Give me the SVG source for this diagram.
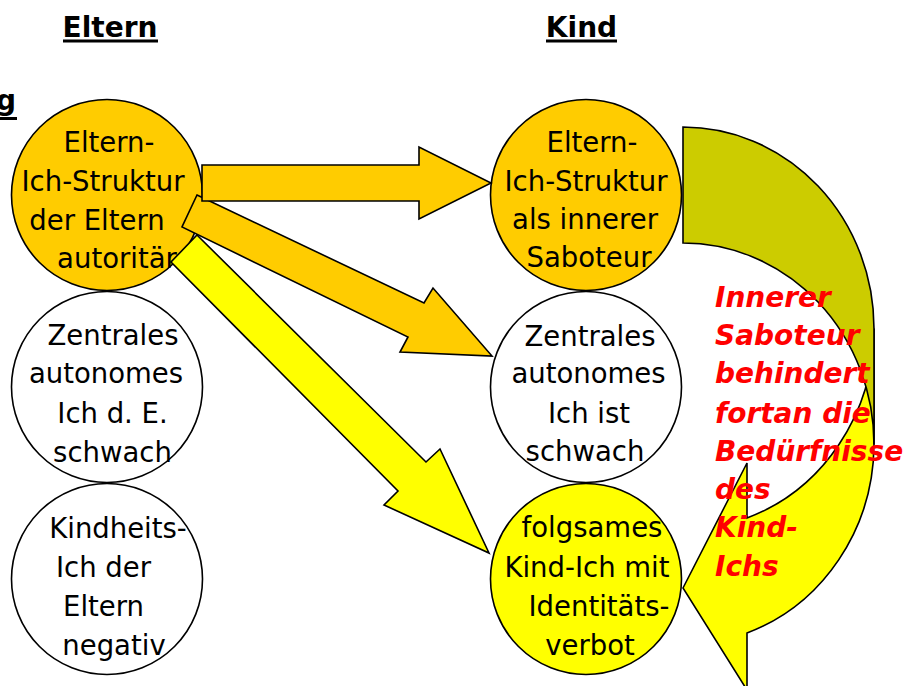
<svg xmlns="http://www.w3.org/2000/svg" width="915" height="686" viewBox="0 0 915 686">
  <style>
    .head { font-family: "DejaVu Sans", Verdana, sans-serif; font-size: 28px; font-weight: bold; fill: #000; }
    .lbl { font-family: "DejaVu Sans", Verdana, sans-serif; font-size: 27.5px; fill: #000; text-anchor: middle; }
    .note { font-family: "DejaVu Sans", Verdana, sans-serif; font-size: 28px; font-weight: bold; font-style: italic; fill: #FF0000; }
    .node { stroke: #000; stroke-width: 1.6; }
    .arrow { stroke: #000; stroke-width: 1.6; stroke-linejoin: miter; }
    .orange { fill: #FFCC00; }
    .yellow { fill: #FFFF00; }
    .white { fill: #FFFFFF; }
    .olive { fill: #CCCC00; }
  </style>
  <rect width="915" height="686" fill="#FFFFFF"/>

  <!-- column headings -->
  <g id="headings">
    <text class="head" x="110" y="37" text-anchor="middle">Eltern</text>
    <rect x="63" y="39.5" width="95" height="3" fill="#000"/>
    <text class="head" x="581.5" y="37" text-anchor="middle">Kind</text>
    <rect x="546" y="39.5" width="71" height="3" fill="#000"/>
    <text class="head" x="16" y="110" text-anchor="end">g</text>
    <rect x="0" y="117" width="17" height="3" fill="#000"/>
  </g>

  <!-- parent side -->
  <g id="eltern-ich">
    <circle class="node orange" cx="107" cy="195" r="95.5"/>
  </g>
  <g id="eltern-zentral">
    <circle class="node white" cx="107" cy="387" r="95.5"/>
  </g>
  <g id="eltern-kindheit">
    <circle class="node white" cx="107" cy="579" r="95.5"/>
  </g>

  <!-- child side -->
  <g id="kind-saboteur">
    <circle class="node orange" cx="586" cy="195" r="95.5"/>
  </g>
  <g id="kind-zentral">
    <circle class="node white" cx="586" cy="387" r="95.5"/>
  </g>
  <g id="kind-folgsam">
    <circle class="node yellow" cx="586" cy="579" r="95.5"/>
  </g>

  <!-- block arrows and the curved saboteur arrow -->
  <g id="connectors">
    <polygon class="arrow yellow" points="197,235 426,462 440,449 489,553 384,505 398,491 171,262"/>
    <polygon class="arrow orange" points="197,195 424,303 433,288 492,356 400,352 408,337 182,227"/>
    <polygon class="arrow orange" points="202,165 419,165 419,147 491,183 419,219 419,201 202,201"/>
    <!-- curved arrow: light lower band with head, dark upper band on top -->
    <path class="arrow yellow" d="M683,588 L747,463 L747,518 A191,201.5 0 0 0 874,328.5 L874,444.5 A191,201.5 0 0 1 747,633 L747,690 Z"/>
    <path class="arrow olive" d="M874,444.5 A191,201.5 0 0 0 683,243 L683,127 A191,201.5 0 0 1 874,328.5 Z"/>
  </g>

  <!-- node labels -->
  <g id="labels">
    <text class="lbl" x="109" y="152">Eltern-</text>
    <text class="lbl" x="103" y="191">Ich-Struktur</text>
    <text class="lbl" x="97" y="230">der Eltern</text>
    <text class="lbl" x="117" y="268">autoritär</text>

    <text class="lbl" x="113" y="345">Zentrales</text>
    <text class="lbl" x="106" y="383">autonomes</text>
    <text class="lbl" x="112.5" y="423">Ich d. E.</text>
    <text class="lbl" x="112.5" y="462">schwach</text>

    <text class="lbl" x="118" y="538">Kindheits-</text>
    <text class="lbl" x="103.5" y="577">Ich der</text>
    <text class="lbl" x="103.5" y="616">Eltern</text>
    <text class="lbl" x="114" y="655">negativ</text>

    <text class="lbl" x="592" y="152">Eltern-</text>
    <text class="lbl" x="586" y="191">Ich-Struktur</text>
    <text class="lbl" x="585" y="229">als innerer</text>
    <text class="lbl" x="589" y="267">Saboteur</text>

    <text class="lbl" x="590" y="346">Zentrales</text>
    <text class="lbl" x="588.5" y="383">autonomes</text>
    <text class="lbl" x="589" y="423">Ich ist</text>
    <text class="lbl" x="585" y="461">schwach</text>

    <text class="lbl" x="592" y="537">folgsames</text>
    <text class="lbl" x="587" y="577">Kind-Ich mit</text>
    <text class="lbl" x="599" y="616">Identitäts-</text>
    <text class="lbl" x="590" y="655">verbot</text>
  </g>

  <!-- annotation on the curved arrow -->
  <g id="note">
    <text class="note" x="715" y="307">Innerer</text>
    <text class="note" x="715" y="345">Saboteur</text>
    <text class="note" x="715" y="383">behindert</text>
    <text class="note" x="715" y="423">fortan die</text>
    <text class="note" x="715" y="461">Bedürfnisse</text>
    <text class="note" x="715" y="499">des</text>
    <text class="note" x="715" y="537">Kind-</text>
    <text class="note" x="715" y="576">Ichs</text>
  </g>
</svg>
